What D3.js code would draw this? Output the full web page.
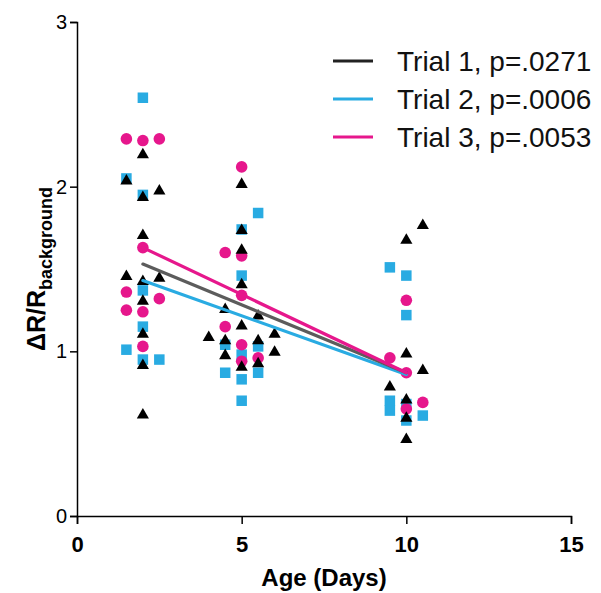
<!DOCTYPE html>
<html>
<head>
<meta charset="utf-8">
<script src="https://cdn.jsdelivr.net/npm/d3@7"></script>
<style>
  body { margin: 0; background: #fff; }
  text { font-family: "Liberation Sans", Arial, sans-serif; }
</style>
</head>
<body>
<div id="chart-area"></div>
<script>
// Data: [age, value]
const trial1 = [
    [1.5, 2.04], [1.5, 1.46], [2, 2.20], [2, 1.94], [2, 1.71], [2, 1.43], [2, 1.31], [2, 1.11], [2, 0.92], [2, 0.62],
    [2.5, 1.98], [2.5, 1.45],
    [4, 1.09], [4.5, 1.26], [4.5, 1.07], [4.5, 0.98], [5, 2.02], [5, 1.74], [5, 1.62], [5, 1.41], [5, 1.16], [5, 0.91],
    [5.5, 1.22], [5.5, 1.07], [5.5, 0.93], [6, 1.11], [6, 1.00],
    [9.5, 0.79], [10, 1.68], [10, 0.99], [10, 0.71], [10, 0.60], [10, 0.47], [10.5, 1.77], [10.5, 0.89]
];
const trial2 = [
    [1.5, 2.05], [1.5, 1.01], [2, 2.54], [2, 1.95], [2, 1.37], [2, 1.15], [2, 0.95], [2.5, 0.95],
    [4.5, 1.04], [4.5, 0.87], [5, 1.74], [5, 1.46], [5, 0.98], [5, 0.83], [5, 0.70], [5.5, 1.84], [5.5, 1.03], [5.5, 0.87],
    [9.5, 1.51], [9.5, 0.70], [9.5, 0.64], [10, 1.46], [10, 1.22], [10, 0.68], [10, 0.58], [10.5, 0.61]
];
const trial3 = [
    [1.5, 2.29], [1.5, 1.36], [1.5, 1.25], [2, 2.28], [2, 1.63], [2, 1.24], [2, 1.03], [2.5, 2.29], [2.5, 1.32],
    [4.5, 1.60], [4.5, 1.15], [5, 2.12], [5, 1.58], [5, 1.34], [5, 1.04], [5, 0.94], [5.5, 0.96],
    [9.5, 0.96], [10, 1.31], [10, 0.87], [10, 0.65], [10.5, 0.69]
];

// Fit lines, endpoints
const fit1 = [[2, 1.53], [10, 0.87]];
const fit2 = [[2, 1.43], [10, 0.86]];
const fit3 = [[2, 1.63], [10, 0.87]];

const legendLabels = ['Trial 1, p=.0271', 'Trial 2, p=.0006', 'Trial 3, p=.0053'];
const xTicks = [0, 5, 10, 15];
const yTicks = [0, 1, 2, 3];

const blue = '#29abe2';
const pink = '#e6178c';

const margin = { left: 77, right: 30, top: 22, bottom: 77 };
const width = 601 - margin.left - margin.right;
const height = 593 - margin.top - margin.bottom;

const svg = d3.select('#chart-area')
    .append('svg')
        .attr('width', 601)
        .attr('height', 593);

const g = svg.append('g')
    .attr('transform', 'translate(' + margin.left + ', ' + margin.top + ')');

const x = d3.scaleLinear().domain([0, 15]).range([0, width]);
const y = d3.scaleLinear().domain([0, 3]).range([height, 0]);

// Axes
const xAxis = g.append('g')
    .attr('transform', 'translate(0, ' + height + ')')
    .call(d3.axisBottom(x).tickValues(xTicks).tickFormat(d3.format('d')).tickSize(8).tickPadding(12));
xAxis.selectAll('text')
    .attr('font-size', '22px')
    .attr('font-weight', 'bold')
    .attr('fill', '#000')
    .style('font-family', '"Liberation Sans", Arial, sans-serif');

const yAxis = g.append('g')
    .call(d3.axisLeft(y).tickValues(yTicks).tickFormat(d3.format('d')).tickSize(7).tickPadding(3));
yAxis.selectAll('text')
    .attr('font-size', '20px')
    .attr('fill', '#000')
    .style('font-family', '"Liberation Sans", Arial, sans-serif');

[xAxis, yAxis].forEach((a) => {
    a.select('.domain').attr('stroke', '#000').attr('stroke-width', 1.5);
    a.selectAll('.tick line').attr('stroke', '#000').attr('stroke-width', 1.5);
});

// Markers
const sq = 10.5;
g.append('g').selectAll('rect')
    .data(trial2)
    .enter().append('rect')
        .attr('x', (d) => x(d[0]) - sq / 2)
        .attr('y', (d) => y(d[1]) - sq / 2)
        .attr('width', sq)
        .attr('height', sq)
        .attr('fill', blue);

g.append('g').selectAll('circle')
    .data(trial3)
    .enter().append('circle')
        .attr('cx', (d) => x(d[0]))
        .attr('cy', (d) => y(d[1]))
        .attr('r', 5.8)
        .attr('fill', pink);

const tri = d3.symbol().type(d3.symbolTriangle).size(64);
g.append('g').selectAll('path')
    .data(trial1)
    .enter().append('path')
        .attr('d', tri)
        .attr('transform', (d) => 'translate(' + x(d[0]) + ',' + (y(d[1]) + 1) + ')')
        .attr('fill', '#000');

// Fit lines
const line = d3.line().x((d) => x(d[0])).y((d) => y(d[1]));
[[fit2, blue], [fit1, '#5c5c5c'], [fit3, pink]].forEach(([f, c]) => {
    g.append('path')
        .attr('d', line(f))
        .attr('fill', 'none')
        .attr('stroke', c)
        .attr('stroke-width', 3.2)
        .attr('stroke-linecap', 'round');
});

// Legend
const legendColors = ['#222', blue, pink];
legendLabels.forEach((lab, i) => {
    const ly = 61 + i * 38;
    svg.append('line')
        .attr('x1', 333).attr('x2', 373)
        .attr('y1', ly).attr('y2', ly)
        .attr('stroke', legendColors[i])
        .attr('stroke-width', 3);
    svg.append('text')
        .attr('x', 397)
        .attr('y', ly + 10)
        .attr('font-size', '28px')
        .attr('fill', '#111')
        .text(lab);
});

// Axis labels
svg.append('text')
    .attr('x', margin.left + x(7.5))
    .attr('y', 586)
    .attr('text-anchor', 'middle')
    .attr('font-size', '24px')
    .attr('font-weight', 'bold')
    .text('Age (Days)');

const yLabel = svg.append('text')
    .attr('transform', 'translate(45, ' + (margin.top + y(1.5)) + ') rotate(-90)')
    .attr('text-anchor', 'middle')
    .attr('font-size', '25px')
    .attr('font-weight', 'bold');
yLabel.append('tspan').text('ΔR/R');
yLabel.append('tspan')
    .attr('font-size', '18px')
    .attr('dy', '7')
    .text('background');
</script>
</body>
</html>
